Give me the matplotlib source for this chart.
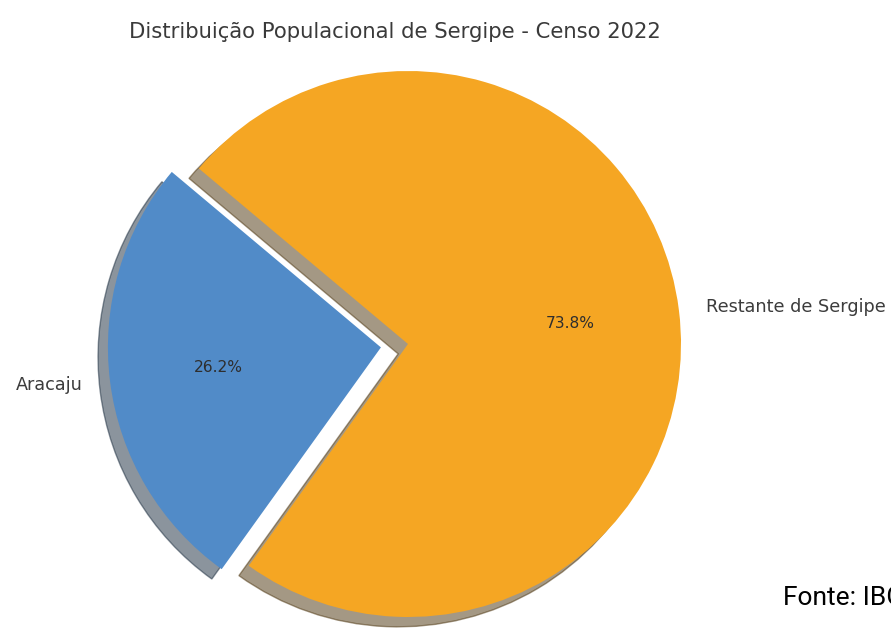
import matplotlib
matplotlib.use('Agg')
import matplotlib.pyplot as plt

# data
labels = ['Aracaju', 'Restante de Sergipe']
shares = [26.2, 73.8]
colors = ['#518bc8', '#f5a623']
explode = [0.1, 0]

title = 'Distribuição Populacional de Sergipe - Censo 2022'
source = 'Fonte: IBGE'

W, H = 891, 628
fig = plt.figure(figsize=(W / 100, H / 100), dpi=100)

# pie centre / radius in pixels (from top-left)
cx, cy, r = 408, 344, 273
box = 600
ax = fig.add_axes([(cx - box / 2) / W, (H - cy - box / 2) / H, box / W, box / H])

wedges, texts, autotexts = ax.pie(
    shares, labels=labels, colors=colors, explode=explode,
    startangle=140, autopct='%1.1f%%',
    shadow={'ox': -0.026, 'oy': -0.026},
    textprops={'fontsize': 12.7, 'color': '#3c3c3c'},
)
for t in autotexts:
    t.set_fontsize(11.2)
    t.set_color('#2e2e2e')

lim = box / 2 / r
ax.set_xlim(-lim, lim)
ax.set_ylim(-lim, lim)
ax.set_aspect('equal')
ax.axis('off')

fig.text(394.5 / W, 1 - 38 / H, title, ha='center', va='baseline',
         fontsize=15.2, color='#3a3a3a')
# source note is cut at the right edge, as in the original screenshot
fig.text(783 / W, 1 - 605 / H, source, ha='left', va='baseline',
         fontsize=19, color='black', family='Roboto')

fig.savefig('out.png', dpi=100)
